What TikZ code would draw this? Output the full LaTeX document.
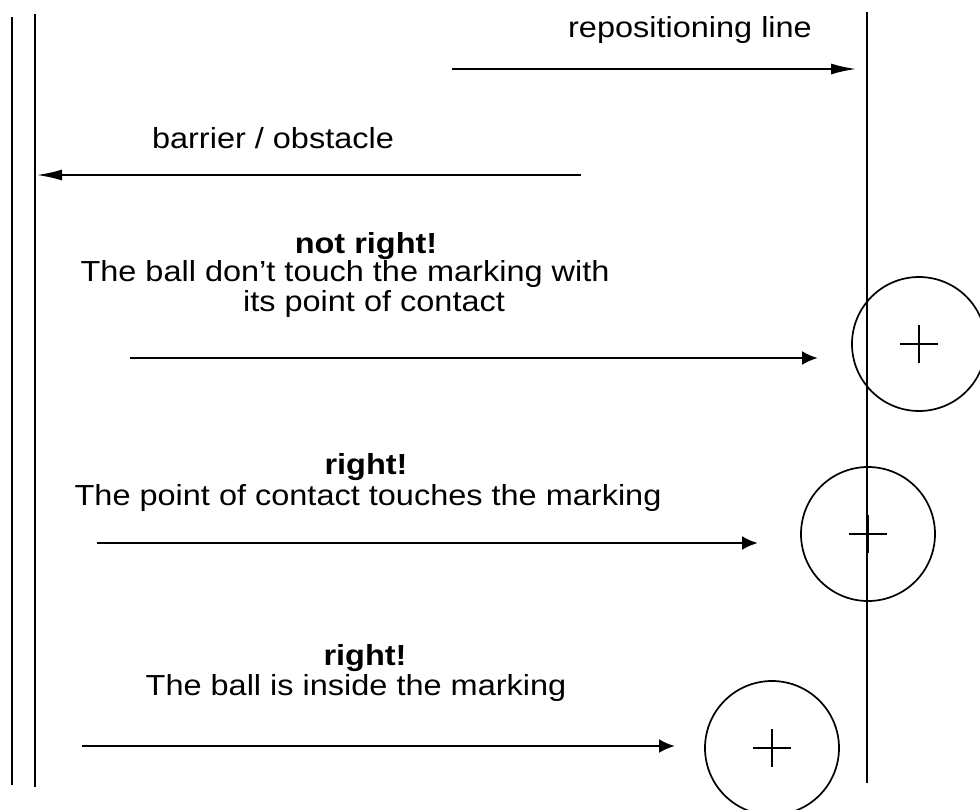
\documentclass[tikz,border=0pt]{standalone}
\usepackage{fontspec}
\setmainfont{Liberation Sans}[FakeStretch=1.12]
\usetikzlibrary{arrows.meta}
\begin{document}
\begin{tikzpicture}[x=1pt,y=-1pt,
  lbl/.style={anchor=base,inner sep=0pt,font=\fontsize{29}{31}\selectfont},
  bl/.style={lbl,font=\fontsize{29}{31}\selectfont\bfseries},
  wall/.style={line width=1.7pt},
  arr/.style={line width=2.6pt,-{Latex[length=16pt,width=14pt]}},
  arrthin/.style={line width=2.6pt,-{Latex[length=26pt,width=11pt]}},
  ball/.style={draw,circle,line width=1.7pt,minimum size=134pt,inner sep=0pt},
  crossline/.style={line width=1.5pt}]
\useasboundingbox (0,0) rectangle (980,809);
% walls
\coordinate (a1) at (12,17); \coordinate (a2) at (12,785);
\coordinate (b1) at (35,14); \coordinate (b2) at (35,787);
\coordinate (c1) at (867,12); \coordinate (c2) at (867,783);
\draw[wall] (a1) -- (a2);
\draw[wall] (b1) -- (b2);
\draw[wall] (c1) -- (c2);
% labels
\node[lbl] (t1) at (690,37) {repositioning line};
\node[lbl] (t2) at (273,148) {barrier / obstacle};
\node[bl] (t3) at (366,253) {not right!};
\node[lbl] (t4) at (345,281) {The ball don’t touch the marking with};
\node[lbl] (t5) at (374,311) {its point of contact};
\node[bl] (t6) at (366,474) {right!};
\node[lbl] (t7) at (368,505) {The point of contact touches the marking};
\node[bl] (t8) at (365,665) {right!};
\node[lbl] (t9) at (356,695) {The ball is inside the marking};
% arrows
\coordinate (r1) at (452,69); \coordinate (r2) at (857,69);
\draw[arrthin] (r1) -- (r2);
\coordinate (o1) at (581,175); \coordinate (o2) at (36,175);
\draw[arrthin] (o1) -- (o2);
\coordinate (p1) at (130,358); \coordinate (p2) at (818,358);
\draw[arr] (p1) -- (p2);
\coordinate (q1) at (97,543); \coordinate (q2) at (758,543);
\draw[arr] (q1) -- (q2);
\coordinate (s1) at (82,746); \coordinate (s2) at (675,746);
\draw[arr] (s1) -- (s2);
% balls
\node[ball] (k1) at (919,344) {};
\node[ball] (k2) at (868,534) {};
\node[ball] (k3) at (772,748) {};
\foreach \k in {k1,k2,k3}{
  \draw[crossline] ([xshift=-19pt]\k.center) -- ([xshift=19pt]\k.center);
  \draw[crossline] ([yshift=-19pt]\k.center) -- ([yshift=19pt]\k.center);
}
\end{tikzpicture}
\end{document}
